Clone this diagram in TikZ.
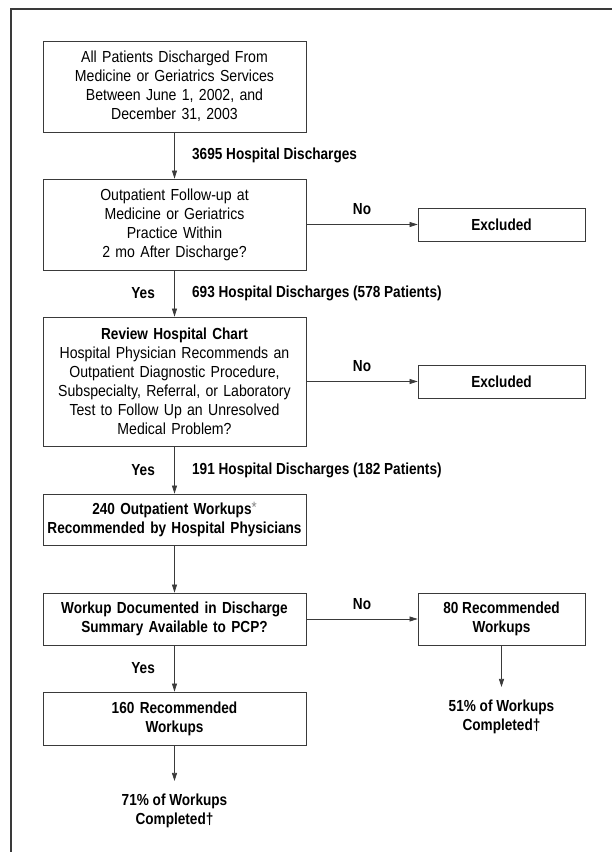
\documentclass[tikz,border=0pt]{standalone}
\usepackage{fontspec}
\setmainfont{Liberation Sans}[FakeStretch=0.88, BoldFeatures={FakeStretch=0.85}]
\definecolor{chartgray}{RGB}{58, 58, 58}
\usepackage{tikz}
\usetikzlibrary{arrows.meta, positioning}
\newcommand{\chartfont}{\fontsize{16}{19}\selectfont}

\begin{document}
\begin{tikzpicture}[x=1pt, y=1pt,
  flowbox/.style={draw=chartgray, line width=0.8pt, text width=259pt, inner xsep=2pt, inner ysep=0pt, align=center, font=\chartfont},
  sidebox/.style={draw=chartgray, line width=0.8pt, minimum width=167pt, inner ysep=0pt, align=center, font=\chartfont\bfseries},
  outcome/.style={align=center, inner ysep=13pt, font=\chartfont\bfseries},
  lab/.style={font=\chartfont\bfseries},
  flow/.style={draw=chartgray, line width=0.7pt, -{Triangle[length=8pt, width=5pt]}}
]
  \useasboundingbox (0,0) rectangle (612,852);
  \draw[chartgray, line width=1.2pt] (11,0) |- (612,843);

  \node[flowbox, minimum height=91pt] (discharged) at (174.5,765.5) {
    All Patients Discharged From\\
    Medicine or Geriatrics Services\\
    Between June 1, 2002, and\\
    December 31, 2003
  };
  \node[flowbox, minimum height=91pt, below=46.2pt of discharged] (followup) {
    Outpatient Follow-up at\\
    Medicine or Geriatrics\\
    Practice Within\\
    2 mo After Discharge?
  };
  \node[flowbox, minimum height=129pt, below=46.2pt of followup] (chart) {
    \textbf{Review Hospital Chart}\\
    Hospital Physician Recommends an\\
    Outpatient Diagnostic Procedure,\\
    Subspecialty, Referral, or Laboratory\\
    Test to Follow Up an Unresolved\\
    Medical Problem?
  };
  \node[flowbox, font=\chartfont\bfseries, minimum height=51pt, below=47.2pt of chart] (workups) {
    240 Outpatient Workups{\color{black!50}\raisebox{2.5pt}{\fontsize{15}{15}\selectfont\mdseries *}}\\
    Recommended by Hospital Physicians
  };
  \node[flowbox, font=\chartfont\bfseries, minimum height=52pt, below=47.2pt of workups] (summary) {
    Workup Documented in Discharge\\
    Summary Available to PCP?
  };
  \node[flowbox, font=\chartfont\bfseries, minimum height=53pt, below=46.2pt of summary] (documented) {
    160 Recommended\\
    Workups
  };
  \node[outcome, below=35.6pt of documented] (donecompleted) {71\% of Workups\\Completed†};

  \node[sidebox, minimum height=33pt, right=111.2pt of followup] (excluded1) {Excluded};
  \node[sidebox, minimum height=33pt, right=111.2pt of chart] (excluded2) {Excluded};
  \node[sidebox, minimum height=52pt, right=111.2pt of summary] (undocumented) {
    80 Recommended\\
    Workups
  };
  \node[outcome, below=41.6pt of undocumented] (notcompleted) {51\% of Workups\\Completed†};

  \draw[flow] (discharged) -- node[lab, right=14pt] {3695 Hospital Discharges} (followup);
  \draw[flow] (followup) -- node[lab, left=16pt] {Yes}
    node[lab, right=14pt] {693 Hospital Discharges (578 Patients)} (chart);
  \draw[flow] (chart) -- node[lab, left=16pt] {Yes}
    node[lab, right=14pt] {191 Hospital Discharges (182 Patients)} (workups);
  \draw[flow] (workups) -- (summary);
  \draw[flow] (summary) -- node[lab, left=16pt] {Yes} (documented);
  \draw[flow] (documented) -- (donecompleted);

  \draw[flow] (followup) -- node[lab, above=6pt] {No} (excluded1);
  \draw[flow] (chart) -- node[lab, above=6pt] {No} (excluded2);
  \draw[flow] (summary) -- node[lab, above=6pt] {No} (undocumented);
  \draw[flow] (undocumented) -- (notcompleted);
\end{tikzpicture}
\end{document}
